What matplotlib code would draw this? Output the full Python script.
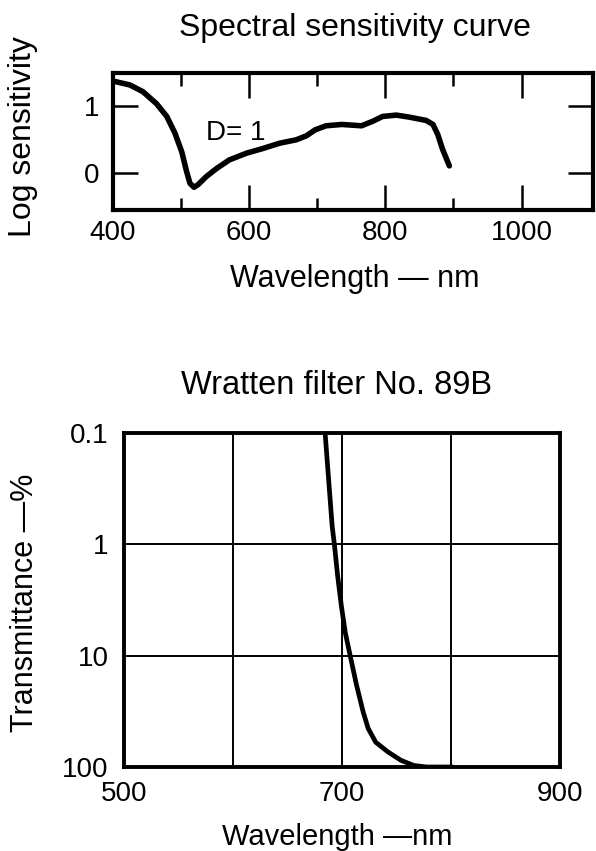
import numpy as np
import matplotlib
matplotlib.use("Agg")
import matplotlib.pyplot as plt
from matplotlib.ticker import FixedLocator, NullFormatter

plt.rcParams['font.family'] = ['Liberation Sans', 'DejaVu Sans']

# spectral sensitivity of the emulsion (log sensitivity at density 1)
sens_nm = [400, 425, 444, 464, 479, 491, 501, 508, 513, 519, 525, 537, 552,
           571, 596, 620, 645, 669, 684, 697, 713, 736, 765, 782, 796, 816,
           835, 860, 870, 877, 884, 894]
sens_log = [1.38, 1.32, 1.22, 1.04, 0.85, 0.60, 0.32, 0.03, -0.15, -0.21,
            -0.17, -0.05, 0.07, 0.20, 0.30, 0.37, 0.45, 0.50, 0.56, 0.65,
            0.71, 0.73, 0.71, 0.78, 0.85, 0.87, 0.84, 0.79, 0.73, 0.58,
            0.36, 0.11]

# transmittance of the Wratten 89B filter, percent
filt_nm = [684.5, 687.5, 691, 693, 696, 699.4, 703, 707.5, 713.4, 719.4,
           724, 731, 742, 754, 766, 778, 800]
filt_t = [0.1, 0.245, 0.69, 1.0, 1.92, 3.56, 6.2, 10, 18.5, 32,
          45, 60, 73, 87, 97, 100, 100]

W, H = 596, 851
fig = plt.figure(figsize=(W / 100, H / 100), dpi=100)


def box(x0, y0, x1, y1):
    # pixel box (from top-left) -> figure fraction rect
    return [x0 / W, 1 - y1 / H, (x1 - x0) / W, (y1 - y0) / H]


def ftext(x, y, s, **kw):
    fig.text(x / W, 1 - y / H, s, ha='center', va='center', **kw)


# ---- top: spectral sensitivity ----
ax1 = fig.add_axes(box(113, 73, 593, 210))
ax1.plot(sens_nm, sens_log, color='black', lw=4, solid_capstyle='round',
         solid_joinstyle='round')
ax1.set_xlim(400, 1105)
ax1.set_ylim(-0.55, 1.5)
ax1.xaxis.set_major_locator(FixedLocator([400, 600, 800, 1000]))
ax1.xaxis.set_minor_locator(FixedLocator([500, 700, 900]))
ax1.yaxis.set_major_locator(FixedLocator([0, 1]))
ax1.yaxis.set_minor_formatter(NullFormatter())
ax1.tick_params(which='both', direction='in', top=True, right=True,
                width=1.8, color='black', labelsize=20)
ax1.tick_params(which='major', length=18)
ax1.tick_params(which='minor', length=9)
ax1.tick_params(axis='x', pad=7)
ax1.tick_params(axis='y', pad=10)
for sp in ax1.spines.values():
    sp.set_linewidth(3)
ax1.text(581, 0.6, 'D= 1', fontsize=20, ha='center', va='center')

ftext(355, 28, 'Spectral sensitivity curve', fontsize=23)
ftext(355, 279, 'Wavelength \u2014 nm', fontsize=22)
ftext(23, 137, 'Log sensitivity', fontsize=23, rotation=90)

# ---- bottom: filter transmittance ----
ax2 = fig.add_axes(box(124, 433, 560, 767))
ax2.plot(filt_nm, filt_t, color='black', lw=3.4, solid_joinstyle='round')
ax2.set_yscale('log')
ax2.set_xlim(500, 900)
ax2.set_ylim(100, 0.1)
ax2.set_xticks([500, 700, 900])
ax2.set_xticklabels(['500', '700', '900'])
ax2.set_yticks([0.1, 1, 10, 100])
ax2.set_yticklabels(['0.1', '1', '10', '100'])
ax2.yaxis.set_minor_locator(FixedLocator([]))
ax2.tick_params(length=0, labelsize=20)
ax2.tick_params(axis='x', pad=10)
ax2.tick_params(axis='y', pad=11)
for x in [600, 700, 800]:
    ax2.axvline(x, color='black', lw=1.4, zorder=1)
for y in [1, 10]:
    ax2.axhline(y, color='black', lw=1.4, zorder=1)
for sp in ax2.spines.values():
    sp.set_linewidth(2.8)

ftext(337, 386, 'Wratten filter No. 89B', fontsize=23.5)
ftext(337, 837, 'Wavelength \u2014nm', fontsize=21)
ftext(25, 603, 'Transmittance \u2014%', fontsize=22, rotation=90)

fig.savefig('out.png', dpi=100, facecolor='white')
